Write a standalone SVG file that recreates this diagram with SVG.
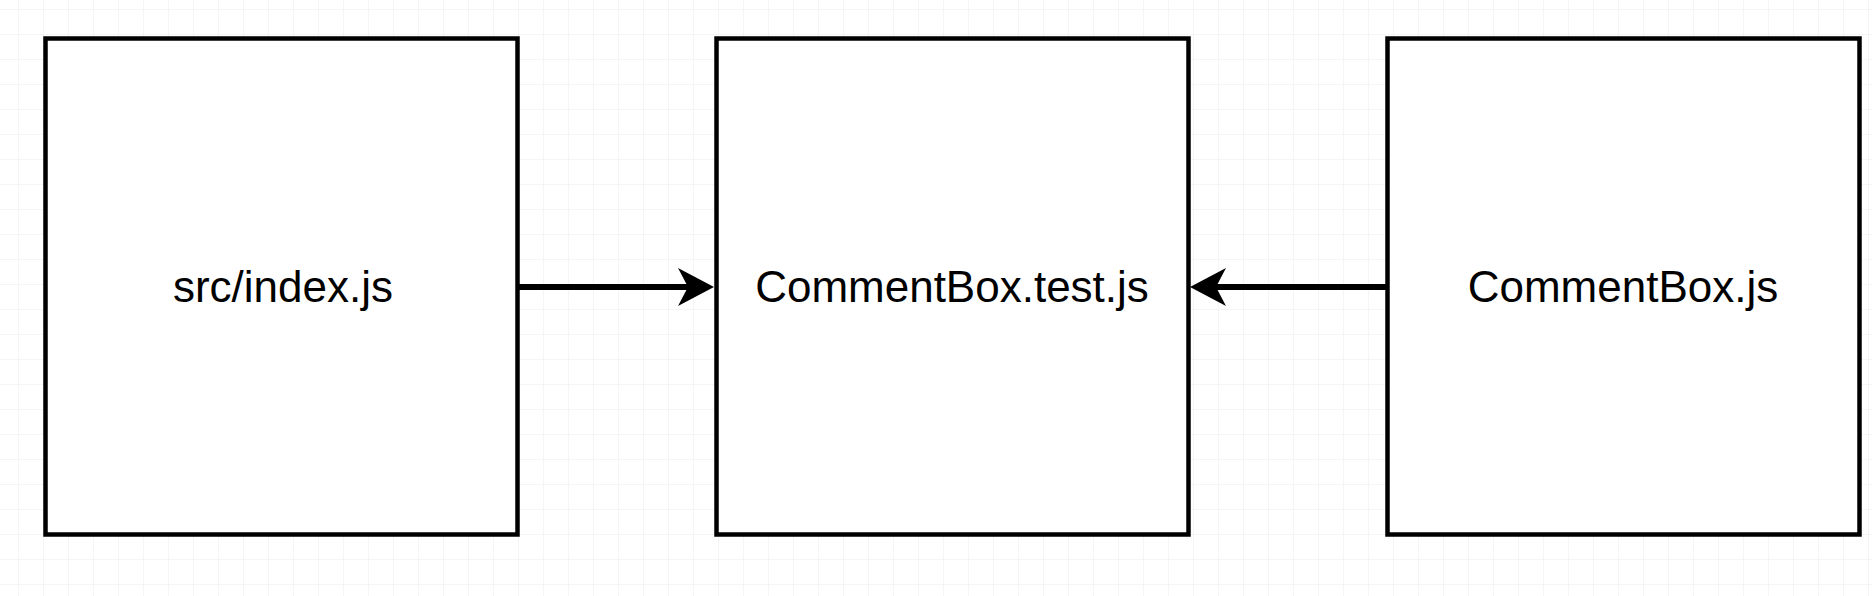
<svg xmlns="http://www.w3.org/2000/svg" width="1872" height="596" viewBox="0 0 1872 596">
  <defs>
    <pattern id="grid" width="25" height="25" patternUnits="userSpaceOnUse" x="-6" y="-15">
      <path d="M25 0 V25 M0 25 H25" fill="none" stroke="#ebebeb" stroke-width="1"/>
    </pattern>
    <marker id="arrow" viewBox="0 0 36 38" refX="22" refY="19" markerWidth="36" markerHeight="38" markerUnits="userSpaceOnUse" orient="auto">
      <path d="M0 0 L36 19 L0 38 L10 19 Z" fill="#000"/>
    </marker>
    <style>
      .box { fill: #fff; stroke: #000; stroke-width: 4.5; }
      .label { font-family: "Liberation Sans", Arial, Helvetica, sans-serif; font-size: 44px; fill: #000; text-anchor: middle; }
      .edge { fill: none; stroke: #000; stroke-width: 6; }
    </style>
  </defs>
  <rect width="1872" height="596" fill="#fff"/>
  <rect width="1872" height="596" fill="url(#grid)"/>
  <g id="node-index">
    <rect class="box" x="45.5" y="38.5" width="472" height="496"/>
    <text class="label" x="283" y="302">src/index.js</text>
  </g>
  <g id="node-test">
    <rect class="box" x="716.5" y="38.5" width="472" height="496"/>
    <text class="label" x="952" y="302">CommentBox.test.js</text>
  </g>
  <g id="node-commentbox">
    <rect class="box" x="1387.5" y="38.5" width="472" height="496"/>
    <text class="label" x="1623" y="302">CommentBox.js</text>
  </g>
  <g id="connectors">
    <path class="edge" d="M519 287 H700" marker-end="url(#arrow)"/>
    <path class="edge" d="M1386 287 H1204" marker-end="url(#arrow)"/>
  </g>
</svg>
